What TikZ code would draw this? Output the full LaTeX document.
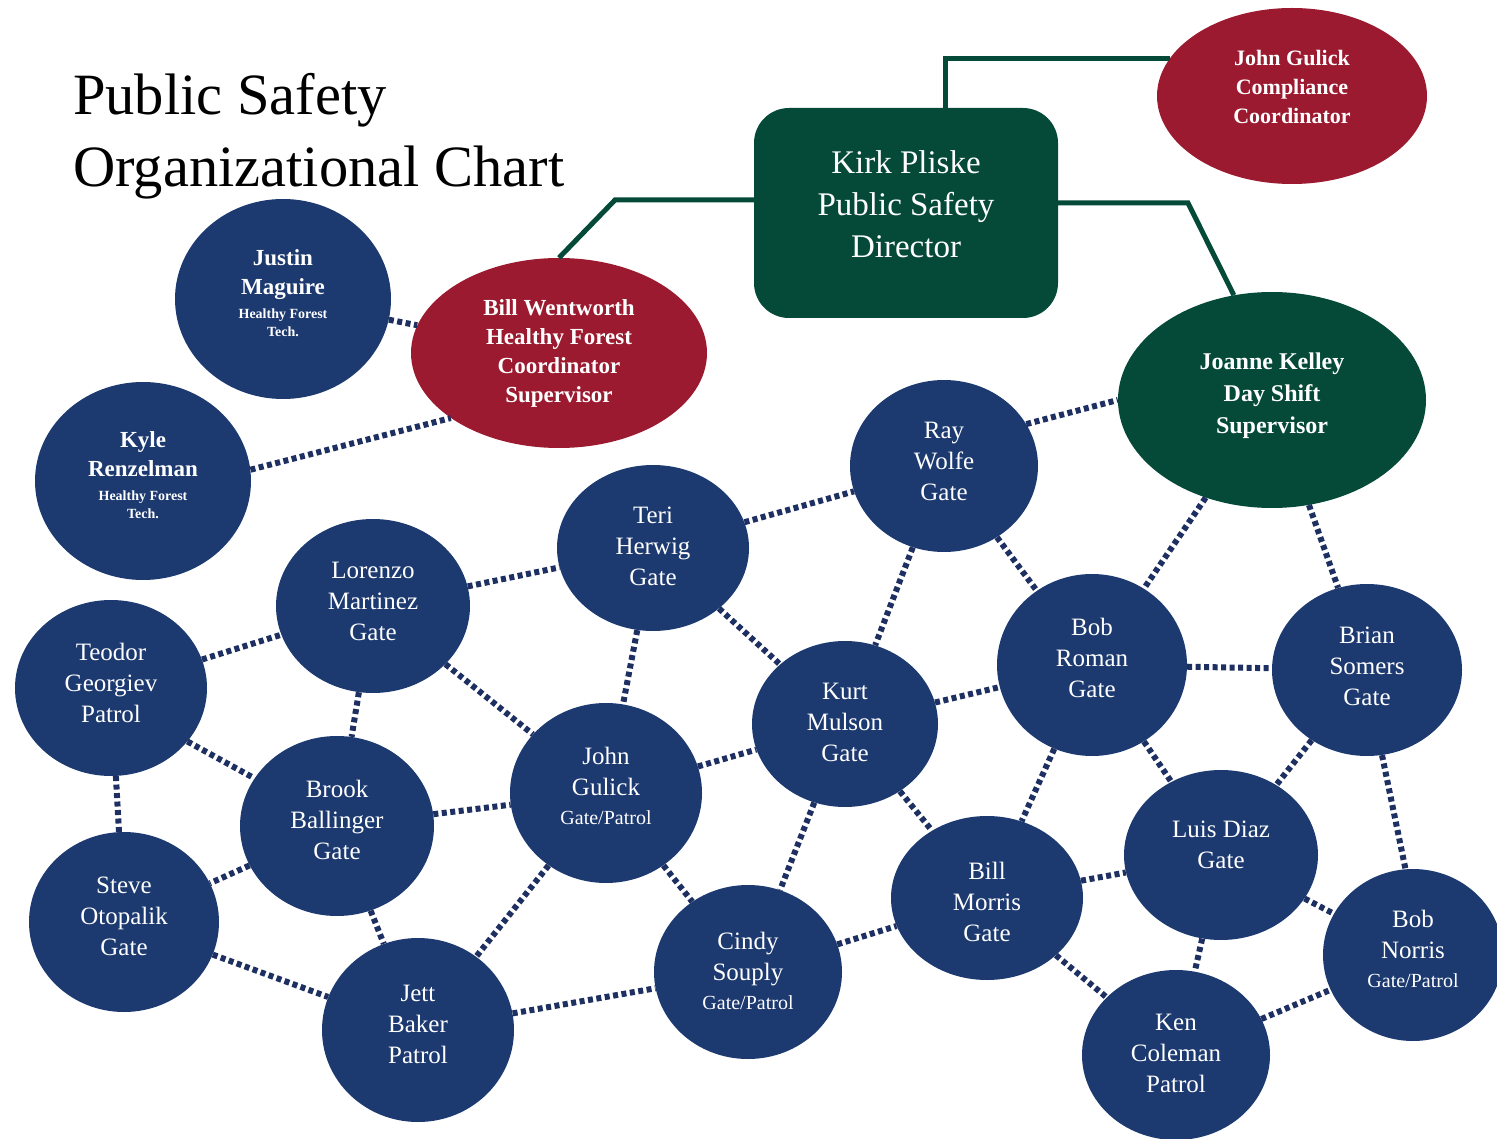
\documentclass[tikz,border=0pt]{standalone}
\usepackage{fontspec}
\setmainfont{Liberation Serif}
\usetikzlibrary{shapes.geometric}
\definecolor{navy}{RGB}{28,57,112}
\definecolor{dotnavy}{RGB}{30,48,98}
\definecolor{pine}{RGB}{5,74,56}
\definecolor{crimson}{RGB}{155,26,48}
% smaller sub-lines inside the circles
\newcommand\hfline[1]{{\fontsize{14}{18}\selectfont #1}}
\newcommand\gpline[1]{{\fontsize{20}{29}\selectfont #1}}

\begin{document}
\begin{tikzpicture}[x=1pt,y=-1pt,
  member/.style={ellipse, fill=navy, inner sep=0pt},
  memtext/.style={text=white, align=center, inner sep=0pt,
    font=\fontsize{25}{31}\selectfont},
  techtext/.style={text=white, align=center, inner sep=0pt,
    font=\bfseries\fontsize{23}{29}\selectfont},
  leadtext/.style={text=white, align=center, inner sep=0pt,
    font=\bfseries\fontsize{23}{29}\selectfont},
  lead/.style={ellipse, inner sep=0pt},
  bossbox/.style={rectangle, rounded corners=35pt, fill=pine,
    minimum width=304pt, minimum height=210pt},
  bosstext/.style={text=white, align=center, inner sep=0pt,
    font=\fontsize{33}{42}\selectfont},
  dotlink/.style={draw=dotnavy, line width=6pt, dash pattern=on 5pt off 3.5pt},
  greenlink/.style={draw=pine, line width=5pt},
  titletext/.style={anchor=base west, inner sep=0pt, font=\fontsize{58.5}{72}\selectfont}]

\useasboundingbox (0,0) rectangle (1497,1139);

% title
\node[titletext] (title1) at (73,115) {Public Safety};
\node[titletext] (title2) at (73,187) {Organizational Chart};

% management
\node[bossbox, label={[bosstext, yshift=9pt]center:Kirk Pliske\\Public Safety\\Director}]
  (kirk) at (906,213) {};
\node[lead, fill=crimson, minimum width=270pt, minimum height=176pt,
  label={[leadtext, font=\bfseries\fontsize{22}{29}\selectfont, yshift=9pt]center:John Gulick\\Compliance\\Coordinator}]
  (jgc) at (1292,96) {};
\node[lead, fill=crimson, minimum width=296pt, minimum height=190pt,
  label={[leadtext]center:Bill Wentworth\\Healthy Forest\\Coordinator\\Supervisor}]
  (bw) at (559,353) {};
\node[lead, fill=pine, minimum width=308pt, minimum height=216pt,
  label={[leadtext, font=\bfseries\fontsize{24}{32}\selectfont, yshift=4pt]center:Joanne Kelley\\Day Shift\\Supervisor}]
  (jk) at (1272,400) {};

% healthy forest techs
\node[member, minimum width=216pt, minimum height=200pt,
  label={[techtext, yshift=6pt]center:Justin\\Maguire\\[-5pt]\hfline{Healthy Forest}\\[-11pt]\hfline{Tech.}}]
  (justin) at (283,299) {};
\node[member, minimum width=216pt, minimum height=198pt,
  label={[techtext, yshift=6pt]center:Kyle\\Renzelman\\[-5pt]\hfline{Healthy Forest}\\[-11pt]\hfline{Tech.}}]
  (kyle) at (143,481) {};

% gate and patrol staff
\node[member, minimum width=188pt, minimum height=172pt,
  label={[memtext, yshift=5pt]center:Ray\\Wolfe\\Gate}] (ray) at (944,466) {};
\node[member, minimum width=192pt, minimum height=166pt,
  label={[memtext, yshift=2pt]center:Teri\\Herwig\\Gate}] (teri) at (653,548) {};
\node[member, minimum width=194pt, minimum height=174pt,
  label={[memtext, yshift=5pt]center:Lorenzo\\Martinez\\Gate}] (lorenzo) at (373,606) {};
\node[member, minimum width=192pt, minimum height=176pt,
  label={[memtext, yshift=5pt]center:Teodor\\Georgiev\\Patrol}] (teodor) at (111,688) {};
\node[member, minimum width=194pt, minimum height=180pt,
  label={[memtext, yshift=6pt]center:Brook\\Ballinger\\Gate}] (brook) at (337,826) {};
\node[member, minimum width=192pt, minimum height=180pt,
  label={[memtext, yshift=7pt]center:John\\Gulick\\[-2pt]\gpline{Gate/Patrol}}] (jgp) at (606,793) {};
\node[member, minimum width=186pt, minimum height=166pt,
  label={[memtext, yshift=2pt]center:Kurt\\Mulson\\Gate}] (kurt) at (845,724) {};
\node[member, minimum width=190pt, minimum height=182pt,
  label={[memtext, yshift=7pt]center:Bob\\Roman\\Gate}] (roman) at (1092,665) {};
\node[member, minimum width=190pt, minimum height=172pt,
  label={[memtext, yshift=4pt]center:Brian\\Somers\\Gate}] (brian) at (1367,670) {};
\node[member, minimum width=190pt, minimum height=180pt,
  label={[memtext, yshift=6pt]center:Steve\\Otopalik\\Gate}] (steve) at (124,922) {};
\node[member, minimum width=192pt, minimum height=184pt,
  label={[memtext, yshift=6pt]center:Jett\\Baker\\Patrol}] (jett) at (418,1030) {};
\node[member, minimum width=188pt, minimum height=174pt,
  label={[memtext, yshift=1pt]center:Cindy\\Souply\\[-2pt]\gpline{Gate/Patrol}}] (cindy) at (748,972) {};
\node[member, minimum width=192pt, minimum height=164pt,
  label={[memtext, yshift=-4pt]center:Bill\\Morris\\Gate}] (morris) at (987,898) {};
\node[member, minimum width=194pt, minimum height=170pt,
  label={[memtext, yshift=10pt]center:Luis Diaz\\Gate}] (luis) at (1221,855) {};
\node[member, minimum width=180pt, minimum height=172pt,
  label={[memtext, yshift=6pt]center:Bob\\Norris\\[-2pt]\gpline{Gate/Patrol}}] (norris) at (1413,955) {};
\node[member, minimum width=188pt, minimum height=170pt,
  label={[memtext, yshift=2pt]center:Ken\\Coleman\\Patrol}] (ken) at (1176,1055) {};

% solid reporting lines from the director
\coordinate (bwbend) at (615,200);
\coordinate (jkbend) at (1188,203);
\coordinate (jgcrise) at (945,0);
\draw[greenlink] (kirk.north -| jgcrise) |- (jgc.163);
\draw[greenlink] (kirk.west |- bwbend) -- (bwbend) -- (bw.north);
\draw[greenlink] (kirk.east |- jkbend) -- (jkbend) -- (jk.110);

% dotted working relationships
\draw[dotlink] (kyle.6) -- (bw.211);
\draw[dotlink] (ray.27) -- (jk.180);
\draw[dotlink] (teodor.-35) -- (brook.150);
\draw[dotlink] (brian.-80) -- (norris.95);
\foreach \a/\b in {justin/bw, teri/ray, lorenzo/teri,
  teodor/lorenzo, teodor/steve, lorenzo/brook, lorenzo/jgp,
  teri/jgp, teri/kurt, ray/kurt, ray/roman, jk/roman, jk/brian,
  roman/brian, kurt/roman, jgp/kurt, brook/jgp, brook/steve, brook/jett,
  steve/jett, jgp/jett, jgp/cindy, kurt/cindy, kurt/morris, jett/cindy,
  cindy/morris, roman/morris, roman/luis, brian/luis,
  morris/luis, morris/ken, luis/ken, luis/norris, ken/norris}
  \draw[dotlink] (\a) -- (\b);

\end{tikzpicture}
\end{document}
